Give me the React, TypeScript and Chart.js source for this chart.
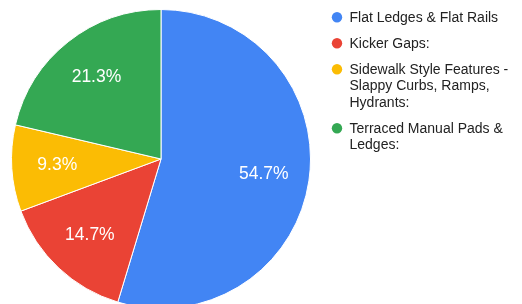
import React, { useEffect, useRef } from "react";
import { Chart, registerables } from "chart.js";

Chart.register(...registerables);

const categories: string[][] = [
  ["Flat Ledges & Flat Rails"],
  ["Kicker Gaps:"],
  ["Sidewalk Style Features -", "Slappy Curbs, Ramps,", "Hydrants:"],
  ["Terraced Manual Pads &", "Ledges:"],
];
const values: number[] = [41, 11, 7, 16];
const colors: string[] = ["#4285F4", "#EA4335", "#FBBC04", "#34A853"];

const sliceLabels = {
  id: "sliceLabels",
  afterDatasetsDraw(chart: any) {
    const ctx = chart.ctx;
    const meta = chart.getDatasetMeta(0);
    const total = values.reduce((a, b) => a + b, 0);
    ctx.save();
    ctx.fillStyle = "#ffffff";
    ctx.font = "17.5px 'Liberation Sans', Arial, sans-serif";
    ctx.textAlign = "center";
    ctx.textBaseline = "middle";
    meta.data.forEach((arc: any, i: number) => {
      const p = arc.getProps(["x", "y", "startAngle", "endAngle", "outerRadius"], true);
      const mid = (p.startAngle + p.endAngle) / 2;
      const r = p.outerRadius * 0.695;
      const x = p.x + Math.cos(mid) * r;
      const y = p.y + Math.sin(mid) * r;
      const pct = ((values[i] / total) * 100).toFixed(1) + "%";
      ctx.fillText(pct, x, y);
    });
    ctx.restore();
  },
};

const sideLegend = {
  id: "sideLegend",
  afterDraw(chart: any) {
    const ctx = chart.ctx;
    ctx.save();
    ctx.font = "14px 'Liberation Sans', Arial, sans-serif";
    ctx.textBaseline = "middle";
    ctx.textAlign = "left";
    const lh = 16.5;
    const gap = 26;
    let y = 17.3;
    categories.forEach((lines, i) => {
      ctx.fillStyle = colors[i];
      ctx.beginPath();
      ctx.arc(337, y, 5.2, 0, Math.PI * 2);
      ctx.fill();
      ctx.fillStyle = "#222222";
      lines.forEach((ln, j) => {
        ctx.fillText(ln, 349.5, y + j * lh + 0.5);
      });
      y += (lines.length - 1) * lh + gap;
    });
    ctx.restore();
  },
};

export default function App() {
  const ref = useRef<HTMLCanvasElement>(null);
  useEffect(() => {
    document.body.style.margin = "0";
    const chart = new Chart(ref.current!, {
      type: "pie",
      data: {
        labels: categories.map((l) => l.join(" ")),
        datasets: [
          {
            data: values,
            backgroundColor: colors,
            borderColor: "#ffffff",
            borderWidth: 1,
          },
        ],
      },
      options: {
        responsive: false,
        animation: false,
        layout: { padding: { left: 11, top: 9, right: 211, bottom: 11 } },
        plugins: {
          legend: { display: false },
          tooltip: { enabled: false },
        },
      },
      plugins: [sliceLabels, sideLegend],
    });
    return () => chart.destroy();
  }, []);
  return (
    <div style={{ width: 522, height: 304, overflow: "hidden", background: "#fff" }}>
      <canvas ref={ref} width={522} height={320} style={{ width: 522, height: 320, display: "block" }} />
    </div>
  );
}
